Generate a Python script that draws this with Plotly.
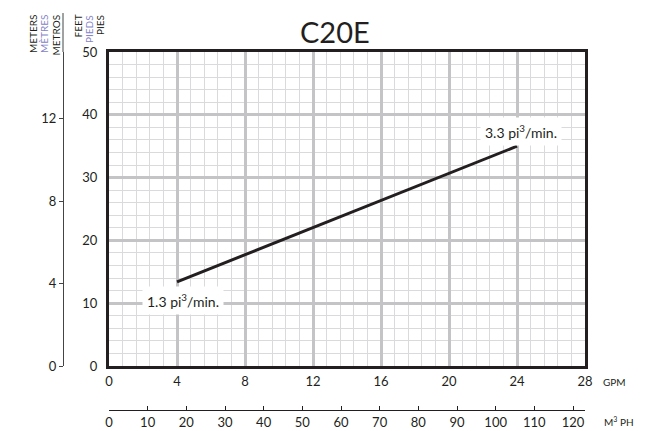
import plotly.graph_objects as go

# ---- data ----
gpm = [4, 24]
feet = [13.4, 35.0]
point_labels = ["1.3 pi<sup>3</sup>/min.", "3.3 pi<sup>3</sup>/min."]
label_x = [4.35, 24.24]
label_y = [10.5, 37.3]
gpm_ticks = [0, 4, 8, 12, 16, 20, 24, 28]
feet_ticks = [0, 10, 20, 30, 40, 50]
metre_ticks = [0, 4, 8, 12]
m3ph_ticks = list(range(0, 130, 10))

W, H = 650, 431
L, R, T, B = 40, 65, 52, 10
PW, PH = W - L - R, H - T - B


def px(x):
    return (x - L) / PW


def py(y):
    return (H - B - y) / PH


INK = "#231f20"
FONT = "Lato"
MAJOR = "#c4c4c7"
MINOR = "#dadadc"
PURPLE = "#8482c8"
TS = 13

fig = go.Figure()
fig.add_trace(go.Scatter(x=gpm, y=feet, mode="lines",
                         line=dict(color=INK, width=3), hoverinfo="skip",
                         showlegend=False))
# invisible helper traces so the secondary axes render
fig.add_trace(go.Scatter(x=[0], y=[0], xaxis="x2", yaxis="y", mode="markers",
                         marker=dict(opacity=0), showlegend=False, hoverinfo="skip"))
fig.add_trace(go.Scatter(x=[0], y=[0], xaxis="x", yaxis="y2", mode="markers",
                         marker=dict(opacity=0), showlegend=False, hoverinfo="skip"))

for t, xx, yy in zip(point_labels, label_x, label_y):
    fig.add_annotation(x=xx, y=yy, xref="x", yref="y", text=t, showarrow=False,
                       xanchor="center", yanchor="middle",
                       bgcolor="white", borderpad=4,
                       font=dict(family=FONT, size=14, color=INK))

# title
fig.add_annotation(x=px(335), y=py(32), xref="paper", yref="paper", text="C20E",
                   showarrow=False, xanchor="center", yanchor="middle",
                   font=dict(family=FONT, size=29, color=INK))

# unit labels
fig.add_annotation(x=px(614), y=py(382), xref="paper", yref="paper", text="GPM",
                   showarrow=False, xanchor="center", yanchor="middle",
                   font=dict(family=FONT, size=10, color=INK))
fig.add_annotation(x=px(619), y=py(422), xref="paper", yref="paper", text="M<sup>3</sup> PH",
                   showarrow=False, xanchor="center", yanchor="middle",
                   font=dict(family=FONT, size=10, color=INK))

words = [("METERS", 33, INK), ("MÈTRES", 44, PURPLE), ("METROS", 56, INK),
         ("FEET", 78, INK), ("PIEDS", 89, PURPLE), ("PIES", 100, INK)]
for w, xx, c in words:
    fig.add_annotation(x=px(xx), y=py(13), xref="paper", yref="paper", text=w,
                       textangle=-90, showarrow=False, xanchor="center", yanchor="top",
                       font=dict(family=FONT, size=10, color=c))

# extension of the metres axis line above the plot
fig.add_shape(type="line", xref="paper", yref="paper", x0=px(63), x1=px(63),
              y0=1, y1=py(13), line=dict(color="#444", width=1))

fig.update_layout(
    width=W, height=H,
    margin=dict(l=L, r=R, t=T, b=B, autoexpand=False),
    paper_bgcolor="white", plot_bgcolor="white",
    showlegend=False,
    font=dict(family=FONT, size=TS, color=INK),
    xaxis=dict(domain=[px(109), 1], range=[0, 28], tickvals=gpm_ticks,
               showgrid=True, gridcolor=MAJOR, gridwidth=2.5, automargin=False,
               minor=dict(dtick=0.8, showgrid=True, gridcolor=MINOR, gridwidth=1, ticks=""),
               showline=True, mirror=True, linecolor=INK, linewidth=3,
               ticks="", ticklabelstandoff=1, zeroline=False,
               tickfont=dict(family=FONT, size=TS, color=INK)),
    yaxis=dict(domain=[py(366), 1], range=[0, 50], tickvals=feet_ticks,
               showgrid=True, gridcolor=MAJOR, gridwidth=2.5, automargin=False,
               minor=dict(dtick=2, showgrid=True, gridcolor=MINOR, gridwidth=1, ticks=""),
               showline=True, mirror=True, linecolor=INK, linewidth=3,
               ticks="", ticklabelstandoff=6, zeroline=False,
               tickfont=dict(family=FONT, size=TS, color=INK)),
    xaxis2=dict(overlaying="x", anchor="free", position=py(410), side="bottom",
                range=[0, 123.1], tickvals=m3ph_ticks, showgrid=False, zeroline=False,
                showline=True, linecolor=INK, linewidth=1, automargin=False,
                ticks="inside", ticklen=4, tickcolor=INK, ticklabelstandoff=0,
                tickfont=dict(family=FONT, size=TS, color=INK)),
    yaxis2=dict(overlaying="y", anchor="free", position=px(63), side="left",
                range=[0, 50 * 0.3048], tickvals=metre_ticks, showgrid=False,
                zeroline=False, showline=True, linecolor="#444", linewidth=1,
                automargin=False,
                ticks="outside", ticklen=4, tickcolor="#444",
                tickfont=dict(family=FONT, size=TS, color=INK)),
)

fig.write_html("out.html", config={"displayModeBar": False},
               post_script="document.body.style.margin='0';")
